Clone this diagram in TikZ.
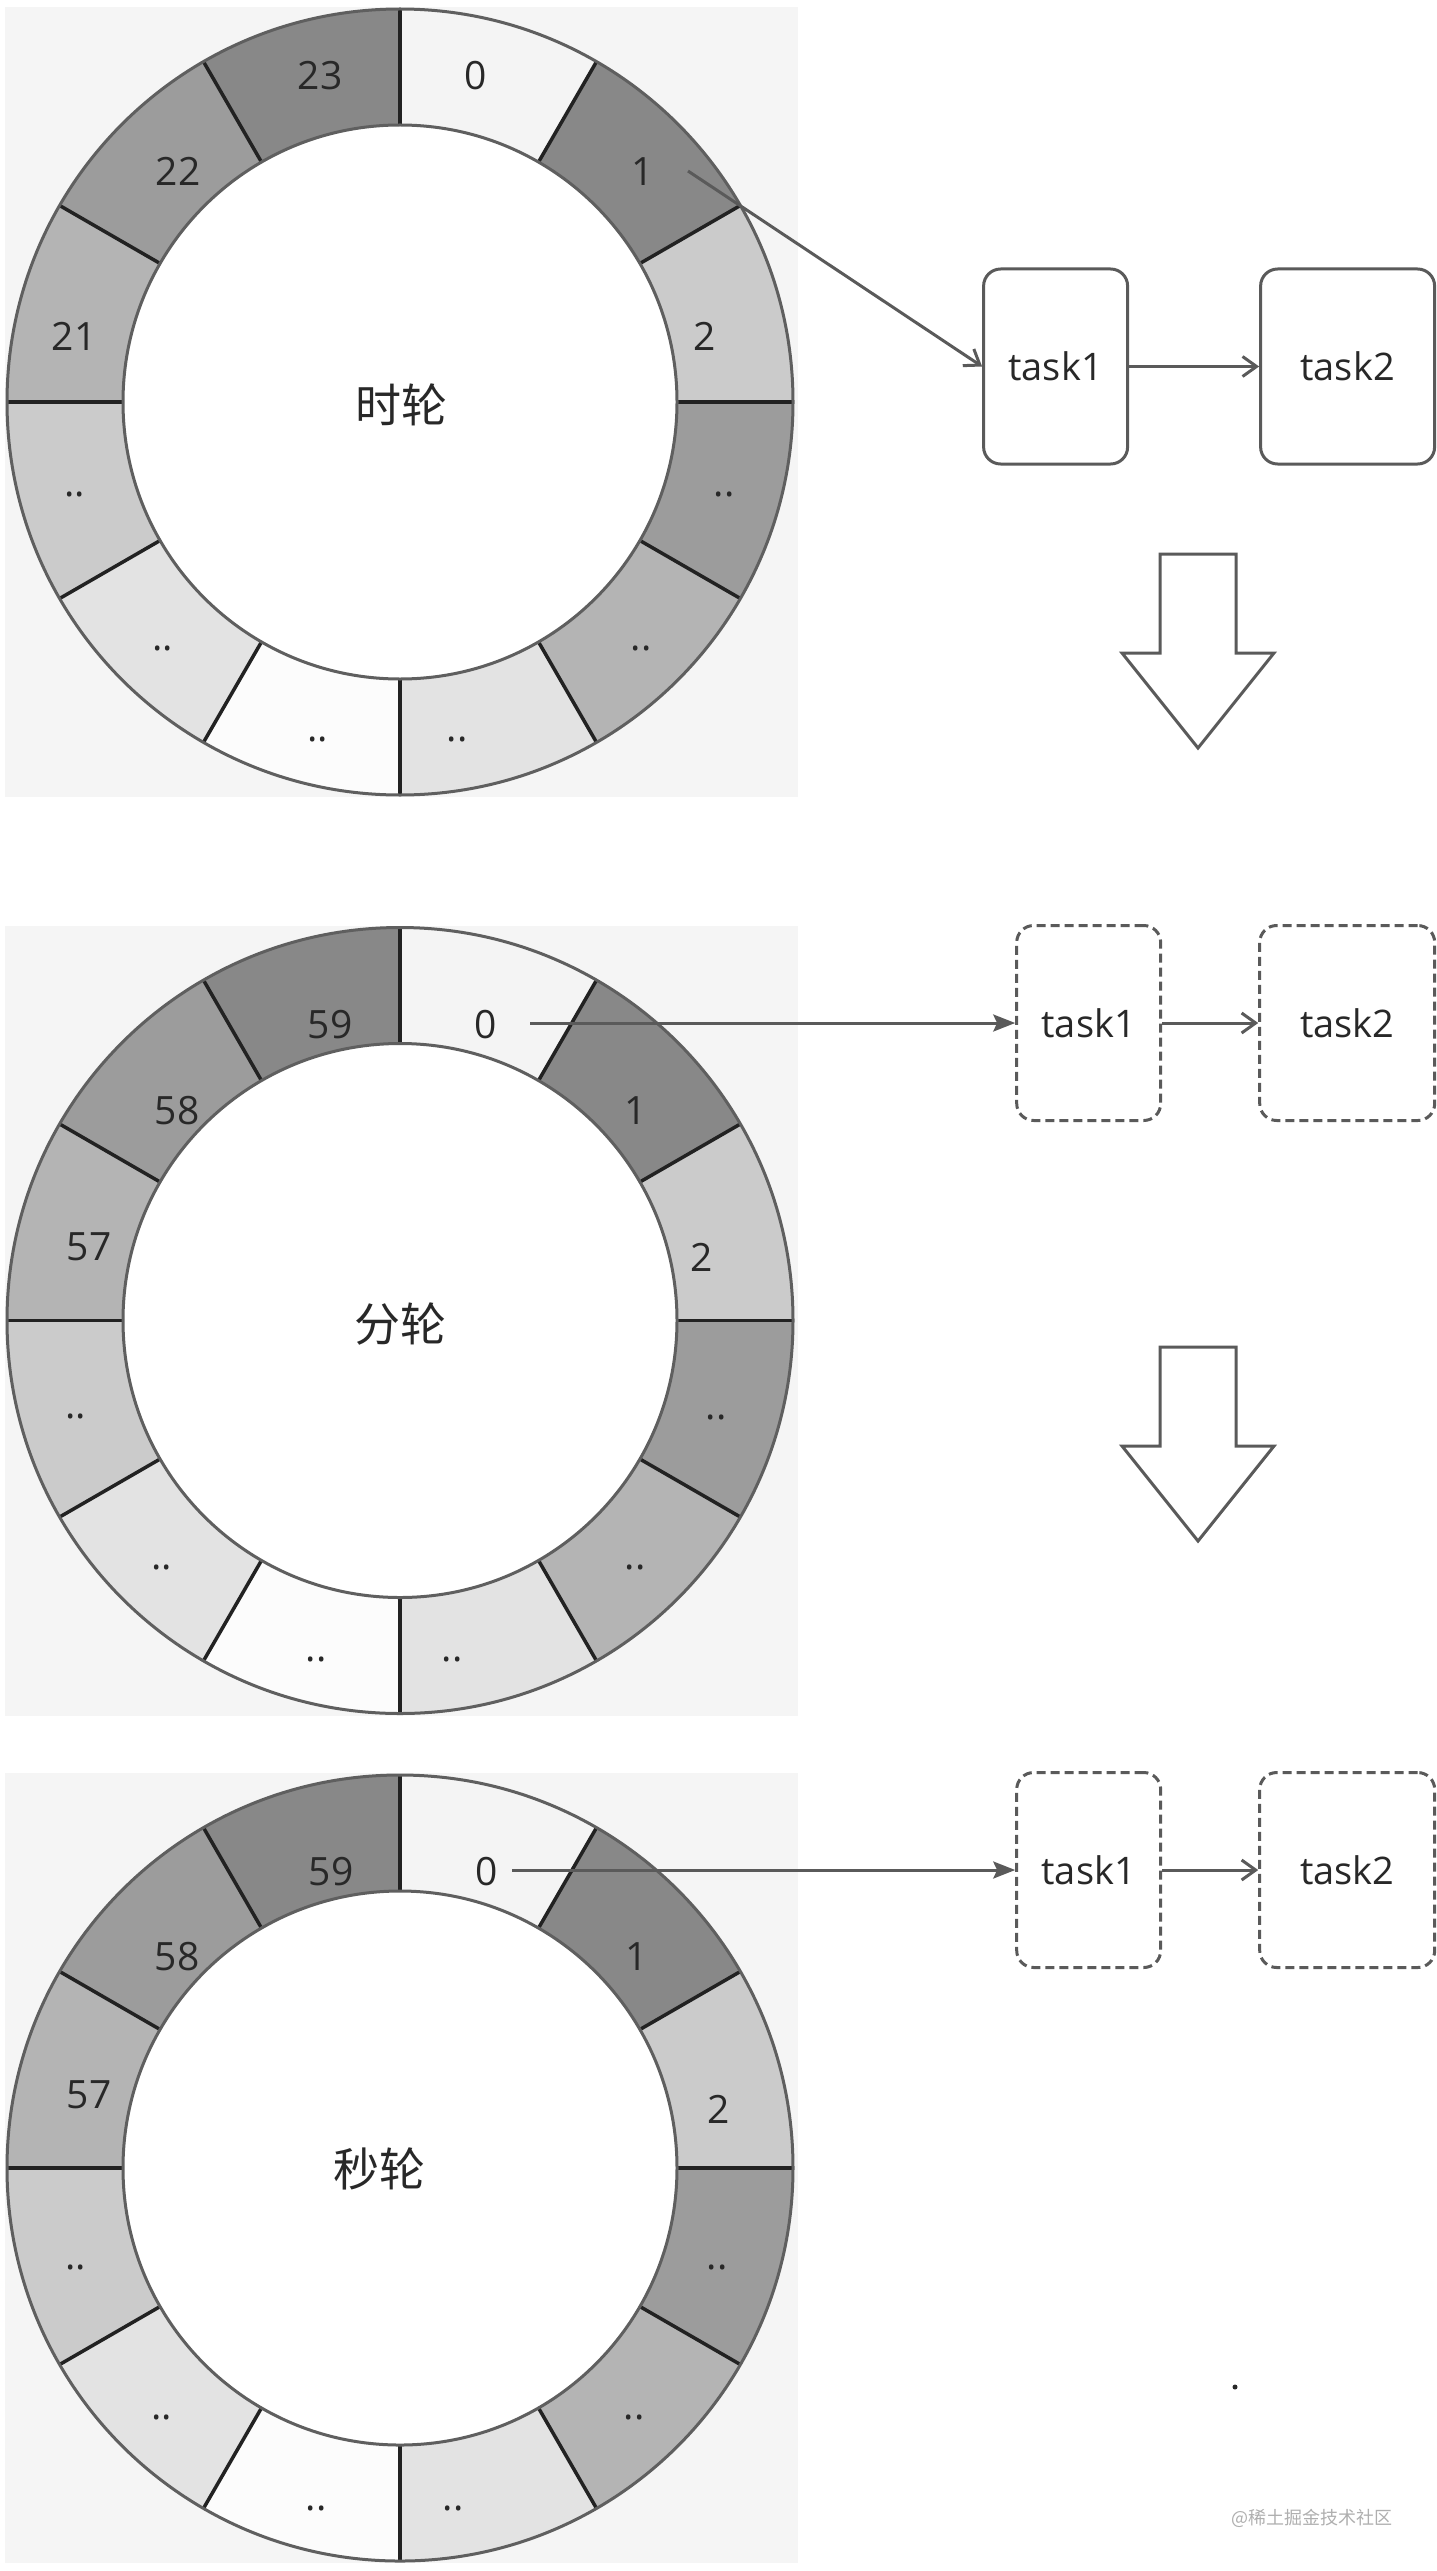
\documentclass[tikz,border=0pt]{standalone}
\usepackage{fontspec}
\setmainfont{Open Sans}
\newfontfamily\cjk{Noto Sans CJK SC}
\usetikzlibrary{arrows.meta,positioning}
\definecolor{panel}{RGB}{245,245,245}
\definecolor{ash}{RGB}{136,136,136}
\definecolor{smoke}{RGB}{156,156,156}
\definecolor{pewter}{RGB}{180,180,180}
\definecolor{silver}{RGB}{203,203,203}
\definecolor{mist}{RGB}{227,227,227}
\definecolor{snow}{RGB}{252,252,252}
\definecolor{pearl}{RGB}{244,244,244}
\definecolor{rim}{RGB}{95,95,95}
\definecolor{spokeline}{RGB}{34,34,34}
\definecolor{ink}{RGB}{40,40,40}
\definecolor{wire}{RGB}{90,90,90}
\definecolor{stamp}{RGB}{175,175,175}
\newcommand{\slotdots}{..}

\tikzset{
  slot/.style={font=\fontsize{39}{39}\selectfont,text=ink,inner sep=0pt},
  hub/.style={font=\cjk\fontsize{46}{46}\selectfont,text=ink,inner sep=0pt},
  spoke/.style={draw=spokeline,line width=3.5pt},
  rimline/.style={draw=rim,line width=3pt},
  taskbox/.style={draw=wire,line width=3pt,rounded corners=17pt,fill=white,
    minimum width=144pt,minimum height=195pt,font=\fontsize{38}{38}\selectfont,text=ink},
  ghostbox/.style={taskbox,dash pattern=on 9pt off 5pt},
  link/.style={draw=wire,line width=3pt,-{Straight Barb[length=14pt,width=20pt]}},
  feed/.style={draw=wire,line width=3pt,-{Stealth[length=22pt,width=17pt,inset=4pt]}},
  bigdown/.style={draw=wire,line width=3pt,fill=white,line join=miter}
}

\begin{document}
\begin{tikzpicture}[x=1pt,y=1pt]
    \fill[white] (0,0) rectangle (1436,-2571);
    \useasboundingbox (0,0) rectangle (1436,-2571);
    \foreach \cy in {402,1320.5,2168}
    {
      \begin{scope}[shift={(400,-\cy)}]
        \fill[panel] (-395,395) rectangle (398,-395);
        \foreach \a/\tone in {0/silver,30/ash,60/pearl,90/ash,120/smoke,150/pewter,
                              180/silver,210/mist,240/snow,270/mist,300/pewter,330/smoke}
          \fill[\tone] (\a:393) arc[start angle=\a,end angle=\a+30,radius=393]
            -- ({\a+30}:277) arc[start angle=\a+30,end angle=\a,radius=277] -- cycle;
        \foreach \a in {0,30,...,330}
          \draw[spoke] (\a:277) -- (\a:393);
        \draw[rimline] (0,0) circle[radius=393];
        \draw[rimline,fill=white] (0,0) circle[radius=277];
      \end{scope}
    }
    \begin{scope}[shift={(400,-402)}]
      \foreach \t/\x/\y [count=\i] in {0/76/326,1/243/230,2/305/66,\slotdots/324/-92,
          \slotdots/241/-246,\slotdots/57/-337,\slotdots/-82/-337,\slotdots/-237/-246,
          \slotdots/-325/-92,21/-326/66,22/-222/231,23/-80/326}
        \node[slot] (h\i) at (\x,\y) {\t};
      \node[hub] (h-hub) at (1,-3) {时轮};
    \end{scope}
    \begin{scope}[shift={(400,-1320.5)}]
      \foreach \t/\x/\y [count=\i] in {0/86/296,1/236/210,2/302/63,\slotdots/316/-97,
          \slotdots/235/-247,\slotdots/52/-339,\slotdots/-84/-339,\slotdots/-238/-247,
          \slotdots/-324/-96,57/-311/74,58/-223/210,59/-70/296}
        \node[slot] (m\i) at (\x,\y) {\t};
      \node[hub] (m-hub) at (0,-4) {分轮};
    \end{scope}
    \begin{scope}[shift={(400,-2168)}]
      \foreach \t/\x/\y [count=\i] in {0/87/296,1/237/211,2/319/59,\slotdots/317/-99,
          \slotdots/234/-249,\slotdots/53/-340,\slotdots/-84/-340,\slotdots/-238/-249,
          \slotdots/-324/-99,57/-311/73,58/-223/211,59/-69/296}
        \node[slot] (s\i) at (\x,\y) {\t};
      \node[hub] (s-hub) at (-21,-1) {秒轮};
    \end{scope}

    \node[taskbox] (h-task1) at (1055.6,-366.5) {task1};
    \node[taskbox,minimum width=174pt,right=130pt of h-task1] (h-task2) {task2};
    \coordinate (h-tail) at (688,-171);
    \draw[link] (h-tail) -- (h-task1.west);
    \draw[link] (h-task1) -- (h-task2);

    \foreach \w/\cy/\tx in {m/1023/530,s/1870/512}
    {
      \node[ghostbox] (\w-task1) at (1088.7,-\cy) {task1};
      \node[ghostbox,minimum width=175pt,right=96pt of \w-task1] (\w-task2) {task2};
      \coordinate (\w-tail) at (\tx,-\cy);
      \draw[feed] (\w-tail) -- (\w-task1.west);
      \draw[link] (\w-task1) -- (\w-task2);
    }

    \foreach \ytop in {554,1347}
      \draw[bigdown] (1160,-\ytop) -- ++(76,0) -- ++(0,-99) -- ++(38,0)
        -- ++(-76,-95) -- ++(-76,95) -- ++(38,0) -- cycle;

    \fill[ink] (1235,-2387) circle[radius=2.5];
    \node[anchor=east,text=stamp,font=\cjk\fontsize{18}{18}\selectfont,inner sep=0pt]
      (credit) at (1393,-2518) {@稀土掘金技术社区};
\end{tikzpicture}
\end{document}
